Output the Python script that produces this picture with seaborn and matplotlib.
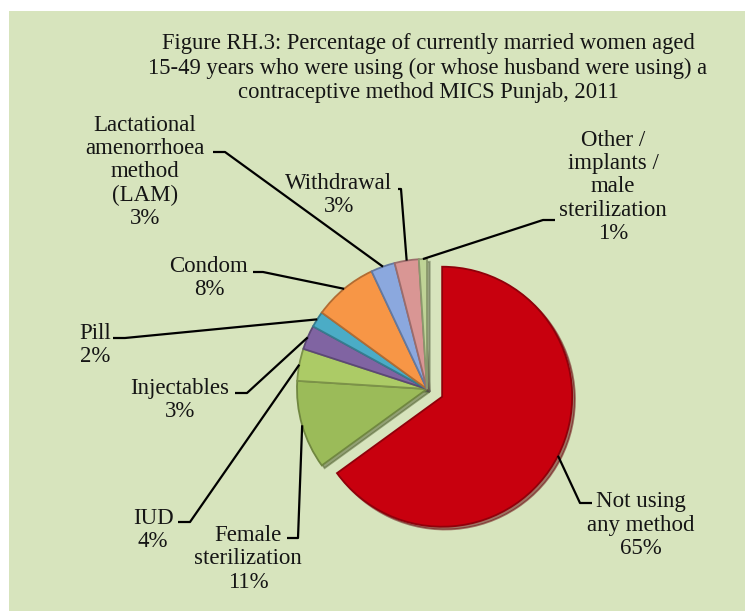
import numpy as np
import pandas as pd
import matplotlib
matplotlib.use('Agg')
import matplotlib.pyplot as plt
from matplotlib.patches import Rectangle
from matplotlib.colors import to_rgb
import seaborn as sns

# data (share of currently married women, %)
methods = ['Not using\nany method', 'Female\nsterilization', 'IUD', 'Injectables',
           'Pill', 'Condom', 'Lactational\namenorrhoea\nmethod\n(LAM)', 'Withdrawal',
           'Other /\nimplants /\nmale\nsterilization']
shares = [65, 11, 4, 3, 2, 8, 3, 3, 1]
colours = ['#C8000E', '#9BBB59', '#ACCB66', '#8064A2', '#4BACC6',
           '#F79646', '#8BA8DE', '#D99694', '#BFD396']
title = ('Figure RH.3: Percentage of currently married women aged\n'
         '15-49 years who were using (or whose husband were using) a\n'
         'contraceptive method MICS Punjab, 2011')

# label layout in image pixels (y measured from the top)
label_pos = [(641, 525), (248, 559), (153, 530), (180, 400), (95, 345),
             (209, 278), (145, 172), (339, 195), (613, 187)]
# horizontal tick of each leader line: (x near text, x at kink, y)
elbows = [(592, 580, 503), (287, 298, 538), (178, 190, 522), (235, 247, 393),
          (113, 125, 338), (253, 263, 272), (213, 225, 152), (398, 401, 189),
          (555, 543, 220)]

W, H = 745, 611

sns.set_theme(style='white')
plt.rcParams['font.family'] = ['Liberation Serif', 'DejaVu Serif']

fig = plt.figure(figsize=(W / 100, H / 100), dpi=100)
ax = fig.add_axes([0, 0, 1, 1])
ax.add_patch(Rectangle((9, 0), W - 9, H - 11, facecolor='#D7E4BD',
                       edgecolor='none', zorder=0))

pal = sns.color_palette(colours)
# pie explode is in data units here (radius 130)
explode = [17] + [0] * (len(shares) - 1)
wedges, _ = ax.pie(shares, colors=pal, startangle=90, counterclock=False,
                   explode=explode, center=(427, H - 389), radius=130,
                   shadow={'ox': 2, 'oy': -2, 'shade': 0.5},
                   wedgeprops=dict(linewidth=1.3))
for w, c in zip(wedges, pal):
    w.set_edgecolor(tuple(np.array(to_rgb(c)) * 0.72))
    w.set_zorder(3)

# leader lines and labels
for w, name, share, (tx, ty), (x0, x1, hy) in zip(wedges, methods, shares,
                                                  label_pos, elbows):
    mid = np.deg2rad((w.theta1 + w.theta2) / 2)
    px, py = w.center[0] + w.r * np.cos(mid), w.center[1] + w.r * np.sin(mid)
    ax.plot([x0, x1, px], [H - hy, H - hy, py], color='black', lw=1.6,
            solid_capstyle='butt', zorder=5)
    ax.text(tx, H - ty, f'{name}\n{share}%', ha='center', va='center',
            fontsize=16.5, linespacing=1.15, color='#151515', zorder=6)

ax.text(428, H - 68, title, ha='center', va='center', fontsize=16.3,
        linespacing=1.2, color='#151515')

ax.set_xlim(0, W)
ax.set_ylim(0, H)
ax.set_aspect('equal')
ax.axis('off')

fig.savefig('out.png', dpi=100)
